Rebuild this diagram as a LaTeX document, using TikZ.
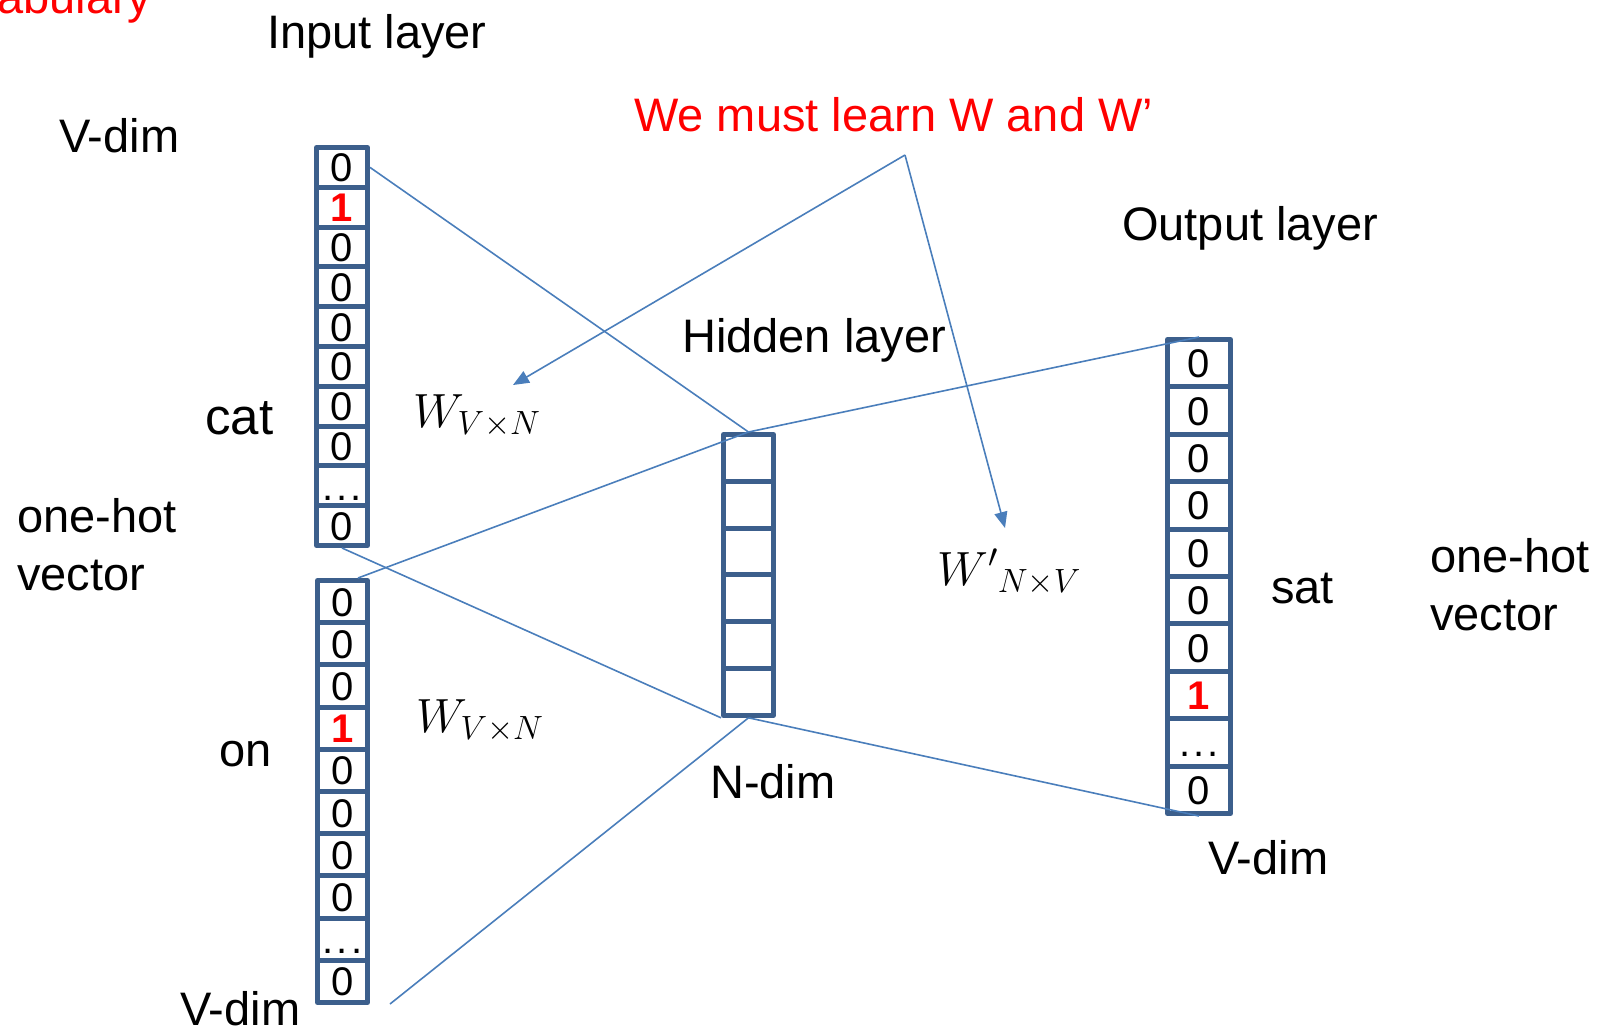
\RequirePackage{fix-cm}
\documentclass[tikz,border=0pt]{standalone}
\usepackage{fontspec}
\setmainfont{Liberation Sans}
\usetikzlibrary{arrows.meta}
\definecolor{boxblue}{RGB}{60,95,140}
\definecolor{lineblue}{RGB}{74,126,187}
\newcommand\redone{\textcolor{red}{\bfseries 1}}
\newcommand\celldots{.\kern3pt.\kern3pt.}
\tikzset{
  cell/.style={draw=boxblue, line width=5pt, line join=round, inner sep=0pt,
    text height=29pt, text depth=0pt, font=\fontsize{40}{40}\selectfont},
  lbl/.style={inner sep=0pt, font=\fontsize{47}{58}\selectfont},
  mlbl/.style={inner sep=0pt, font=\fontsize{48}{50}\selectfont},
  conn/.style={draw=lineblue, line width=1.6pt},
  arr/.style={conn, -{Triangle[length=16pt,width=13pt]}},
}
\begin{document}
\begin{tikzpicture}[x=1pt,y=-1pt]
\useasboundingbox (0,0) rectangle (1598,1031);

% input vector for "cat"
\foreach \i/\t in {1/0,2/\redone,3/0,4/0,5/0,6/0,7/0,8/0,9/\celldots,10/0}
  \node[cell, minimum width=51pt, minimum height=39.8pt] (a\i) at (342, {147.5+(\i-0.5)*39.8}) {\t};
% input vector for "on"
\foreach \i/\t in {1/0,2/0,3/0,4/\redone,5/0,6/0,7/0,8/0,9/\celldots,10/0}
  \node[cell, minimum width=50pt, minimum height=42.2pt] (b\i) at (342.5, {580.5+(\i-0.5)*42.2}) {\t};
% hidden layer
\foreach \i in {1,2,3,4,5,6}
  \node[cell, minimum width=50pt, minimum height=46.8pt] (h\i) at (748.5, {434.5+(\i-0.5)*46.8}) {};
% output vector for "sat"
\foreach \i/\t in {1/0,2/0,3/0,4/0,5/0,6/0,7/0,8/\redone,9/\celldots,10/0}
  \node[cell, minimum width=63pt, minimum height=47.4pt] (o\i) at (1199, {339.5+(\i-0.5)*47.4}) {\t};

% weight connections
\coordinate (lowend) at (390,1004);
\draw[conn] (a1.east) -- (h1.north);
\draw[conn] (a10.south) -- (h6.south west);
\draw[conn] ([xshift=-12pt]b1.north east) -- (h1.north);
\draw[conn] (h1.north) -- (o1.north);
\draw[conn] (h6.south) -- (lowend);
\draw[conn] (h6.south) -- (o10.south);

% labels
\node[lbl, text=red, anchor=base west] (vocab) at (-3,13) {abulary};
\node[lbl, anchor=base west] (inlayer) at (267,48) {Input layer};
\node[lbl, anchor=base west] (vdim1) at (59,152) {V-dim};
\node[lbl, anchor=west, text=red] (learn) at (634,115) {We must learn W and W’};
\node[lbl, anchor=base west] (outlayer) at (1122,240) {Output layer};
\node[lbl, anchor=base west] (hidlayer) at (682,352) {Hidden layer};
\node[lbl, anchor=base west, font=\fontsize{51}{58}\selectfont] (cat) at (205,434) {cat};
\node[lbl, anchor=west, align=left] (oh1) at (17,545) {one-hot\\vector};
\node[lbl, anchor=west] (on) at (219,754) {on};
\node[lbl, anchor=west] (ndim) at (710,782) {N-dim};
\node[lbl, anchor=west] (sat) at (1271,589) {sat};
\node[lbl, anchor=west, align=left] (oh2) at (1430,585) {one-hot\\vector};
\node[lbl, anchor=west] (vdim2) at (1208,858) {V-dim};
\node[lbl, anchor=base west] (vdim3) at (180,1025) {V-dim};
\node[mlbl, anchor=base west] (w1) at (413,427) {$W_{V\times N}$};
\node[mlbl, anchor=base west] (w2) at (416,732) {$W_{V\times N}$};
\node[mlbl, anchor=base west] (w3) at (937,585) {${W'}_{N\times V}$};

% arrows from the note
\coordinate (apex) at (905,155);
\coordinate (tipa) at (513,385);
\coordinate (tipb) at (1005,528);
\draw[arr] (apex) -- (tipa);
\draw[arr] (apex) -- (tipb);
\end{tikzpicture}
\end{document}
